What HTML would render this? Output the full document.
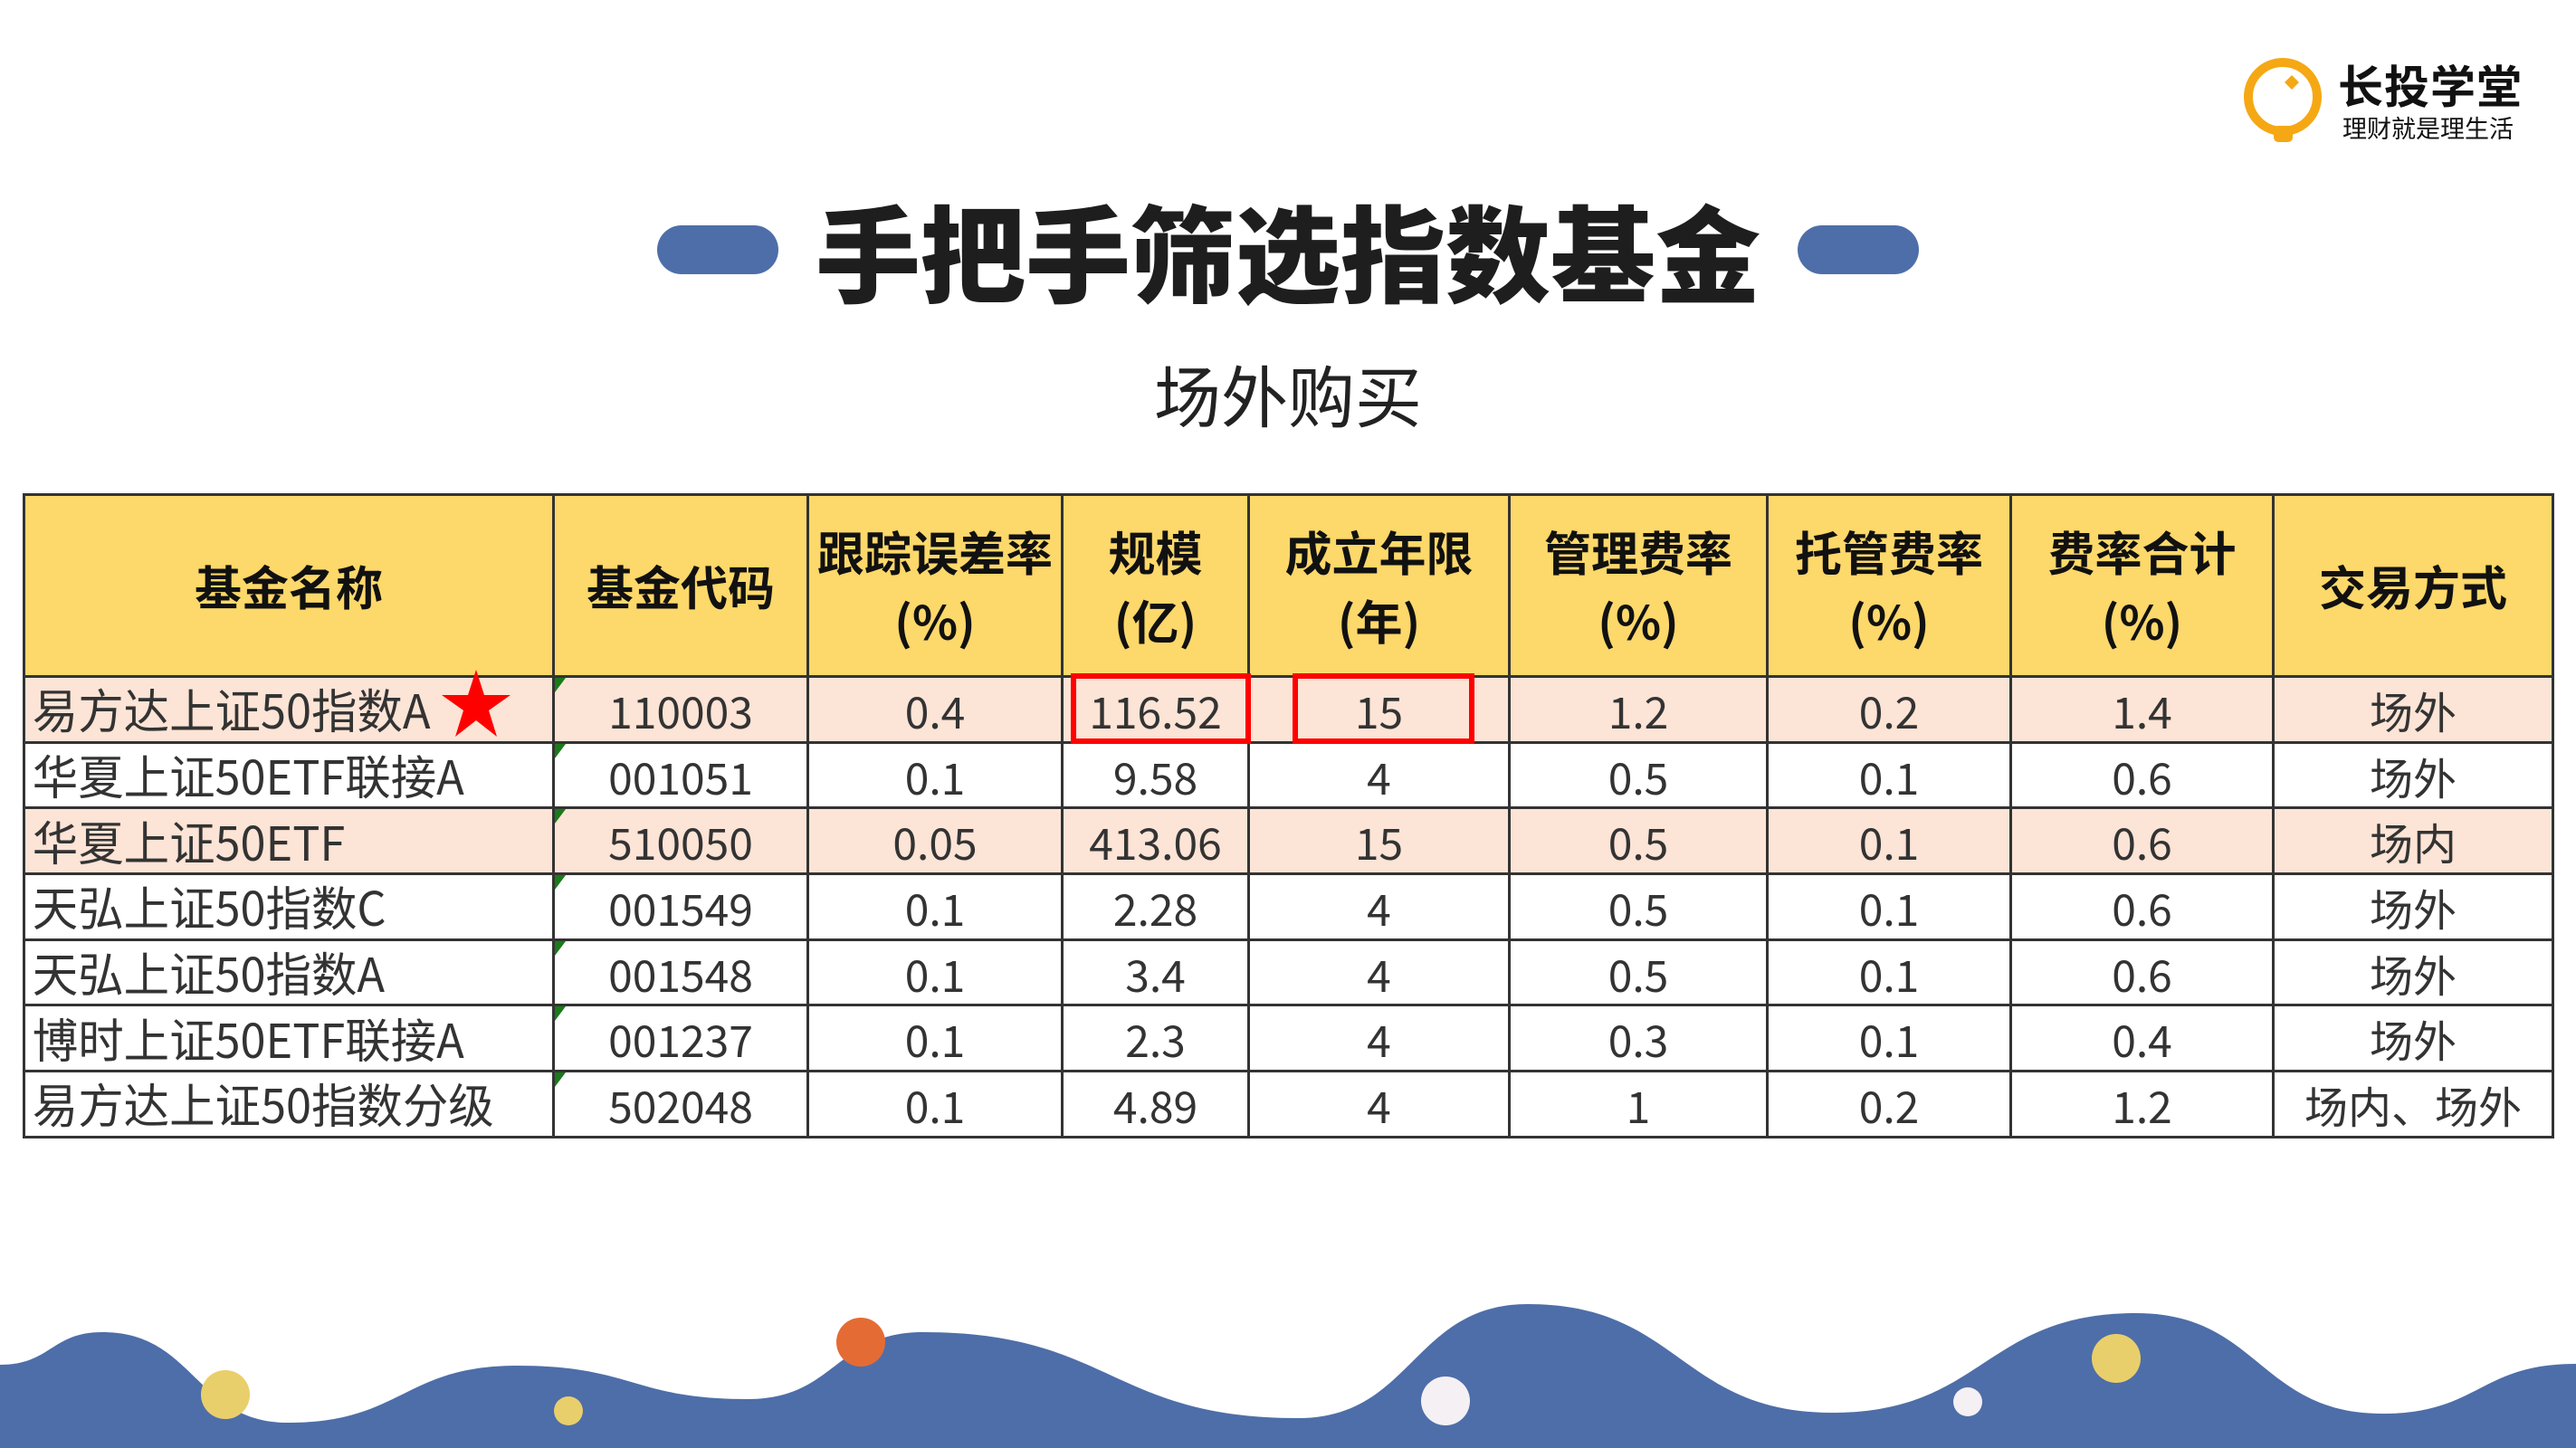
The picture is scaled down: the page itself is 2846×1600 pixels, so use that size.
<!DOCTYPE html>
<html><head><meta charset="utf-8">
<style>
html,body{margin:0;padding:0;}
body{width:2846px;height:1600px;position:relative;overflow:hidden;background:#fff;font-family:"Liberation Sans","Noto Sans CJK SC",sans-serif;}
.abs{position:absolute;}
#title{left:0;width:2846px;top:200px;text-align:center;font-size:116px;font-weight:900;color:#1e1e1e;line-height:150px;font-family:"Noto Sans CJK SC",sans-serif;}
#sub{left:0;width:2846px;top:390px;text-align:center;font-size:74px;color:#222;line-height:90px;font-family:"Noto Sans CJK SC",sans-serif;}
.pill{background:#4e6ea9;border-radius:27px;width:134px;height:54px;top:249px;}
table{position:absolute;left:25px;top:545px;border-collapse:collapse;table-layout:fixed;font-family:"Liberation Sans","Noto Sans CJK SC",sans-serif;}
td,th{border:3px solid #333;padding:0;text-align:center;overflow:hidden;white-space:nowrap;}
th{background:#fdd86a;height:198px;font-size:52px;font-weight:bold;line-height:76px;color:#111;font-family:"Noto Sans CJK SC",sans-serif;}
td{height:69.7px;font-size:48px;color:#333;line-height:66px;position:relative;font-family:"Noto Sans CJK SC",sans-serif;}
tr.hl td{background:#fce4d6;}
td.name{text-align:left;}
td.name span{display:inline-block;font-size:52px;transform:scaleX(.97);transform-origin:left center;padding-left:8px;}
.tri{position:absolute;left:0;top:0;width:0;height:0;border-top:16px solid #1a7a1a;border-right:12px solid transparent;}
.rbox{border:6px solid #f00;box-sizing:border-box;}
</style></head>
<body>
<div class="abs" style="left:2470px;top:55px;width:340px;height:110px;">
 <svg width="110" height="110" style="position:absolute;left:0;top:0">
  <circle cx="52" cy="52" r="38" fill="none" stroke="#f5a814" stroke-width="10"/>
  <rect x="42" y="84" width="21" height="18" rx="5" fill="#f5a814"/>
  <polygon points="62,28 70,36 62,44 54,36" fill="#f5a814"/>
 </svg>
 <div class="abs" style="left:113px;top:8px;font-size:50px;font-weight:bold;color:#111;line-height:60px;font-family:'Noto Sans CJK SC',sans-serif;letter-spacing:1px;">长投学堂</div>
 <div class="abs" style="left:118px;top:69px;font-size:27px;color:#111;line-height:34px;font-family:'Noto Sans CJK SC',sans-serif;">理财就是理生活</div>
</div>
<div class="abs pill" style="left:726px"></div>
<div class="abs pill" style="left:1986px"></div>
<div id="title" class="abs">手把手筛选指数基金</div>
<div id="sub" class="abs">场外购买</div>

<table>
<colgroup><col style="width:585px"><col style="width:281px"><col style="width:281px"><col style="width:206px"><col style="width:288px"><col style="width:285px"><col style="width:269px"><col style="width:290px"><col style="width:309px"></colgroup>
<tr>
<th>基金名称</th>
<th>基金代码</th>
<th>跟踪误差率<br>(%)</th>
<th>规模<br>(亿)</th>
<th>成立年限<br>(年)</th>
<th>管理费率<br>(%)</th>
<th>托管费率<br>(%)</th>
<th>费率合计<br>(%)</th>
<th>交易方式</th>
</tr>
<tr class="hl"><td class="name"><span>易方达上证50指数A</span></td><td><div class="tri"></div>110003</td><td>0.4</td><td>116.52</td><td>15</td><td>1.2</td><td>0.2</td><td>1.4</td><td>场外</td></tr>
<tr><td class="name"><span>华夏上证50ETF联接A</span></td><td><div class="tri"></div>001051</td><td>0.1</td><td>9.58</td><td>4</td><td>0.5</td><td>0.1</td><td>0.6</td><td>场外</td></tr>
<tr class="hl"><td class="name"><span>华夏上证50ETF</span></td><td><div class="tri"></div>510050</td><td>0.05</td><td>413.06</td><td>15</td><td>0.5</td><td>0.1</td><td>0.6</td><td>场内</td></tr>
<tr><td class="name"><span>天弘上证50指数C</span></td><td><div class="tri"></div>001549</td><td>0.1</td><td>2.28</td><td>4</td><td>0.5</td><td>0.1</td><td>0.6</td><td>场外</td></tr>
<tr><td class="name"><span>天弘上证50指数A</span></td><td><div class="tri"></div>001548</td><td>0.1</td><td>3.4</td><td>4</td><td>0.5</td><td>0.1</td><td>0.6</td><td>场外</td></tr>
<tr><td class="name"><span>博时上证50ETF联接A</span></td><td><div class="tri"></div>001237</td><td>0.1</td><td>2.3</td><td>4</td><td>0.3</td><td>0.1</td><td>0.4</td><td>场外</td></tr>
<tr><td class="name"><span>易方达上证50指数分级</span></td><td><div class="tri"></div>502048</td><td>0.1</td><td>4.89</td><td>4</td><td>1</td><td>0.2</td><td>1.2</td><td>场内、场外</td></tr>
</table>

<div class="abs rbox" style="left:1183px;top:744px;width:199px;height:78px"></div>
<div class="abs rbox" style="left:1428px;top:744px;width:201px;height:78px"></div>
<svg class="abs" style="left:486px;top:738px" width="80" height="80">
 <polygon points="40,2 49,30 78,30 54,47 63,76 40,58 17,76 26,47 2,30 31,30" fill="#f00"/>
</svg>

<svg class="abs" style="left:0;top:0" width="2846" height="1600">
 <path id="wave" fill="#4e6ea9" d=""/>
 <circle cx="249" cy="1541" r="27" fill="#e9cf6b"/>
 <circle cx="628" cy="1559" r="16" fill="#e9cf6b"/>
 <circle cx="951" cy="1483" r="27" fill="#e46c34"/>
 <circle cx="1597" cy="1548" r="27" fill="#f4f0f4"/>
 <circle cx="2174" cy="1549" r="16" fill="#f4f0f4"/>
 <circle cx="2338" cy="1501" r="27" fill="#e9cf6b"/>
</svg>
<script>
var P=[[0,1508],[113,1472],[318,1572],[572,1509],[826,1546],[1020,1472],[1434,1567],[1688,1441],[2024,1561],[2360,1451],[2632,1562],[2846,1507]];
var d="M0,1600 L0,1508";
for(var i=1;i<P.length;i++){var a=P[i-1],b=P[i],dx=(b[0]-a[0])/2;d+=" C"+(a[0]+dx)+","+a[1]+" "+(b[0]-dx)+","+b[1]+" "+b[0]+","+b[1];}
d+=" L2846,1600 Z";
document.getElementById('wave').setAttribute('d',d);
</script>
</body></html>
